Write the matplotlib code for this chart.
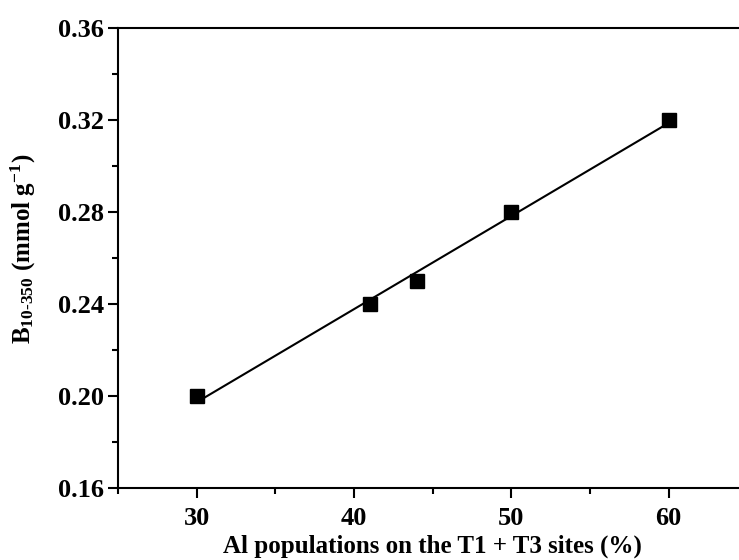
import numpy as np
import matplotlib.pyplot as plt
from matplotlib.ticker import MultipleLocator

# Al populations on T1 + T3 sites (%) vs B10-350 (mmol/g)
al_t1t3 = [30, 41, 44, 50, 60]
b_acid = [0.20, 0.24, 0.25, 0.28, 0.32]

plt.rcParams['font.family'] = ['Liberation Serif', 'DejaVu Serif']
plt.rcParams['mathtext.fontset'] = 'custom'
plt.rcParams['mathtext.rm'] = 'Liberation Serif:bold'
plt.rcParams['mathtext.it'] = 'Liberation Serif:bold'
plt.rcParams['mathtext.bf'] = 'Liberation Serif:bold'

fig = plt.figure(figsize=(7.39, 5.6), dpi=100)
ax = fig.add_axes([0.160, 0.1286, 0.851, 0.8214])

x = np.array(al_t1t3)
y = np.array(b_acid)
slope, icpt = np.polyfit(x, y, 1)
xf = np.array([x.min(), x.max()])
ax.plot(xf, slope * xf + icpt, color='black', lw=1.5, zorder=2)
ax.plot(x, y, ls='none', marker='s', ms=10, color='black', zorder=3)

ax.set_xlim(25, 65)
ax.set_ylim(0.16, 0.36)
ax.set_xticks([30, 40, 50, 60])
ax.xaxis.set_minor_locator(MultipleLocator(5))
ax.set_yticks([0.16, 0.20, 0.24, 0.28, 0.32, 0.36])
ax.yaxis.set_minor_locator(MultipleLocator(0.02))
ax.set_yticklabels(["%.2f" % v for v in ax.get_yticks()])

for s in ax.spines.values():
    s.set_linewidth(1.5)
ax.tick_params(which='major', direction='out', length=7, width=1.5, labelsize=19)
ax.tick_params(axis='x', which='major', pad=7)
ax.tick_params(which='minor', direction='out', length=4, width=1.5)
for lab in ax.get_xticklabels() + ax.get_yticklabels():
    lab.set_fontweight('bold')

ax.set_xlabel("Al populations on the T1 + T3 sites (%)", fontsize=18, fontweight='bold', labelpad=3)
ax.set_ylabel(r"B$_{\text{10-350}}$ (mmol g$^{-1}$)", fontsize=18, fontweight='bold', labelpad=14)
ax.yaxis.label.set_y(0.52)

fig.savefig("out.png", dpi=100)
